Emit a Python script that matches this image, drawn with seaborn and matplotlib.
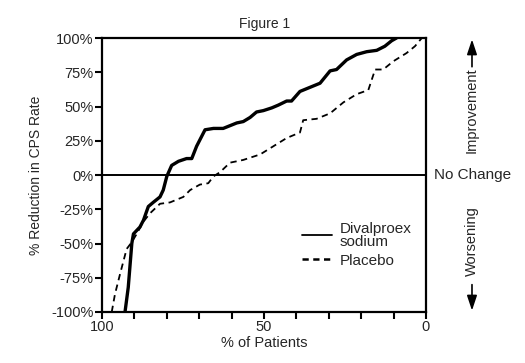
import matplotlib
matplotlib.use("Agg")
import matplotlib.pyplot as plt
import matplotlib.transforms as mtransforms
from matplotlib.lines import Line2D
import seaborn as sns
import pandas as pd

# Divalproex sodium: % of patients (x) vs % reduction in CPS rate (y)
div_x = [92.9, 91.9, 90.8, 90.3, 88.3, 87.2, 85.7, 84.2, 82.1, 81.1, 80.0, 78.5, 76.4,
         73.9, 72.3, 70.8, 68.2, 65.6, 62.6, 60.5, 58.4, 56.4, 54.3, 52.3, 50.2, 47.6,
         45.6, 43.0, 41.5, 38.9, 35.8, 32.7, 29.6, 27.6, 24.5, 21.4, 18.3, 15.2, 12.7,
         10.6, 9.1]
div_y = [-100, -82, -50, -43, -38, -33, -23, -20, -16, -11, -1, 7, 10,
         12, 12, 21, 33, 34, 34, 36, 38, 39, 42, 46, 47, 49,
         51, 54, 54, 61, 64, 67, 76, 77, 84, 88, 90, 91, 94,
         98, 100]

# Placebo
pla_x = [97.0, 96.0, 94.4, 92.4, 90.8, 89.3, 87.2, 85.2, 82.1, 79.0, 74.9, 72.8, 69.8,
         67.2, 65.6, 63.6, 60.5, 56.4, 51.2, 47.1, 43.0, 38.9, 37.9, 33.8, 29.6, 25.5,
         21.4, 17.8, 15.7, 13.2, 10.1, 6.0, 3.4, 1.3]
pla_y = [-100, -87, -72, -54, -49, -43, -34, -28, -21, -20, -16, -11, -7,
         -6, -1, 2, 9, 11, 15, 21, 27, 31, 40, 41, 45, 53,
         59, 62, 77, 77, 83, 89, 94, 100]

y_ticks = [-100, -75, -50, -25, 0, 25, 50, 75, 100]
y_tick_labels = [f"{v}%" for v in y_ticks]
x_major = [100, 50, 0]
x_minor = [90, 80, 70, 60, 40, 30, 20, 10]

sns.set_style("ticks")
plt.rcParams["font.family"] = ["Liberation Sans", "DejaVu Sans"]
plt.rcParams["font.size"] = 10

fig = plt.figure(figsize=(5.25, 3.63), dpi=100)
ax = fig.add_axes([0.1943, 0.1405, 0.6171, 0.7548])

df_div = pd.DataFrame({"x": div_x, "y": div_y})
df_pla = pd.DataFrame({"x": pla_x, "y": pla_y})
sns.lineplot(data=df_div, x="x", y="y", ax=ax, color="black", lw=2.4,
             sort=False, estimator=None)
sns.lineplot(data=df_pla, x="x", y="y", ax=ax, color="black", lw=1.3,
             linestyle=(0, (3.5, 2.5)), sort=False, estimator=None)

ax.axhline(0, color="black", lw=1.4)

ax.set_xlim(100, 0)
ax.set_ylim(-100, 100)
ax.set_yticks(y_ticks)
ax.set_yticklabels(y_tick_labels, fontsize=10.5)
ax.set_xticks(x_major)
ax.set_xticklabels([str(v) for v in x_major], fontsize=10.5)
ax.set_xticks(x_minor, minor=True)
ax.tick_params(axis="both", which="both", direction="out", length=5, width=1.5,
               color="black", pad=1)
for s in ax.spines.values():
    s.set_linewidth(1.6)
    s.set_color("black")
    s.set_visible(True)

ax.set_xlabel("% of Patients", fontsize=10.5, labelpad=1.5)
ax.set_ylabel("% Reduction in CPS Rate", fontsize=10, labelpad=6)
fig.text(0.503, 0.934, "Figure 1", ha="center", va="center", fontsize=10)

handles = [Line2D([], [], color="black", lw=1.3),
           Line2D([], [], color="black", lw=1.8, linestyle=(0, (2.5, 1.8)))]
leg = ax.legend(handles, ["Divalproex\nsodium", "Placebo"], loc="upper left",
                bbox_to_anchor=(0.617, 0.33), frameon=False, fontsize=11,
                handlelength=2.0, handletextpad=0.45, labelspacing=0.3,
                borderpad=0, borderaxespad=0)
for t in leg.get_texts():
    t.set_linespacing(0.95)

trans = mtransforms.blended_transform_factory(ax.transAxes, ax.transData)
ax.text(1.025, 0, "No Change", transform=trans, ha="left", va="center",
        fontsize=11, clip_on=False)
ax.text(1.142, 47.5, "Improvement", transform=trans, ha="center", va="center",
        rotation=90, fontsize=10.5, clip_on=False)
ax.text(1.142, -48, "Worsening", transform=trans, ha="center", va="center",
        rotation=90, fontsize=10.5, clip_on=False)
ax.annotate("", xy=(1.142, 101), xytext=(1.142, 77), xycoords=trans, textcoords=trans,
            arrowprops=dict(arrowstyle="-|>,head_length=0.9,head_width=0.3",
                            color="black", lw=1.2), annotation_clip=False)
ax.annotate("", xy=(1.142, -101), xytext=(1.142, -78), xycoords=trans, textcoords=trans,
            arrowprops=dict(arrowstyle="-|>,head_length=0.9,head_width=0.3",
                            color="black", lw=1.2), annotation_clip=False)

fig.savefig("out.png", dpi=100)
